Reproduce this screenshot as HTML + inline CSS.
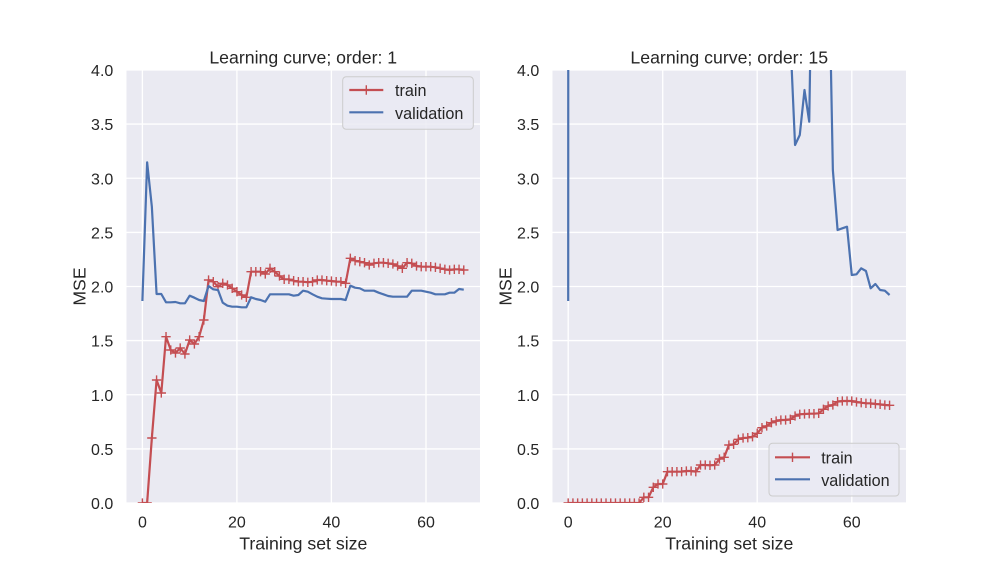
<!DOCTYPE html>
<html><head><meta charset="utf-8"><style>
html,body{margin:0;padding:0;background:#fff;}
svg{display:block;font-family:"Liberation Sans",Arial,sans-serif;}
text{fill:#262626;}
</style></head><body>
<svg width="1008" height="576" viewBox="0 0 1008 576" xmlns="http://www.w3.org/2000/svg">
<defs>
<clipPath id="cl"><rect x="126.5" y="70" width="353.5" height="433"/></clipPath>
<marker id="plus" markerUnits="userSpaceOnUse" markerWidth="12" markerHeight="12" refX="6" refY="6" viewBox="0 0 12 12" overflow="visible">
<path d="M1.33 6H10.67M6 1.33V10.67" stroke="#C44E52" stroke-width="1.4" fill="none"/>
</marker>
</defs>
<rect width="1008" height="576" fill="#fff"/>

<!-- LEFT AXES -->
<g>
<rect x="126.5" y="70" width="353.5" height="433" fill="#EAEAF2"/>
<g stroke="#fff" stroke-width="1.33">
<line x1="142.4" y1="70" x2="142.4" y2="503"/>
<line x1="236.9" y1="70" x2="236.9" y2="503"/>
<line x1="331.4" y1="70" x2="331.4" y2="503"/>
<line x1="426" y1="70" x2="426" y2="503"/>
<line x1="126.5" y1="503" x2="480" y2="503"/>
<line x1="126.5" y1="448.9" x2="480" y2="448.9"/>
<line x1="126.5" y1="394.75" x2="480" y2="394.75"/>
<line x1="126.5" y1="340.6" x2="480" y2="340.6"/>
<line x1="126.5" y1="286.5" x2="480" y2="286.5"/>
<line x1="126.5" y1="232.4" x2="480" y2="232.4"/>
<line x1="126.5" y1="178.25" x2="480" y2="178.25"/>
<line x1="126.5" y1="124.1" x2="480" y2="124.1"/>
<line x1="126.5" y1="70" x2="480" y2="70"/>
</g>
<g clip-path="url(#cl)" fill="none" stroke-width="2.2" stroke-linejoin="round">
<polyline stroke="#C44E52" marker-start="url(#plus)" marker-mid="url(#plus)" marker-end="url(#plus)" points="142.40,503 147.13,503 151.85,438 156.58,380 161.30,393 166.03,336.7 170.76,350 175.48,353 180.21,348 184.93,354 189.66,340 194.39,344 199.11,336.7 203.84,320 208.56,280 213.29,281.7 218.02,286.7 222.74,283.3 227.47,285 232.19,288.3 236.92,291.7 241.65,295 246.37,297.3 251.10,271.7 255.82,271.7 260.55,271.7 265.28,274 270.00,268.3 274.73,271.7 279.45,276 284.18,279.3 288.91,279.3 293.63,280.7 298.36,281.7 303.08,281.7 307.81,282.3 312.54,281.7 317.26,280 321.99,280 326.71,280.7 331.44,281 336.17,281.7 340.89,281.7 345.62,283.3 350.34,258.3 355.07,260.7 359.80,261.7 364.52,262.7 369.25,265 373.97,263.3 378.70,262.7 383.43,262.7 388.15,263.3 392.88,264 397.60,266 402.33,268.3 407.06,262.7 411.78,263.3 416.51,266 421.23,266.7 425.96,266.7 430.69,266.7 435.41,267.3 440.14,268.3 444.86,269.3 449.59,270 454.32,269.3 459.04,269.3 463.77,270"/>
<polyline stroke="#4C72B0" points="142.40,301 147.13,162.3 151.85,206.7 156.58,294 161.30,294 166.03,302.3 170.76,302.3 175.48,302 180.21,303.3 184.93,303.3 189.66,295.7 194.39,297.7 199.11,300 203.84,301 208.56,286 213.29,289.3 218.02,290 222.74,302.7 227.47,305.7 232.19,306.7 236.92,306.7 241.65,307.3 246.37,307.3 251.10,297.3 255.82,299 260.55,300 265.28,301.7 270.00,294.3 274.73,294.3 279.45,294.3 284.18,294.3 288.91,294.3 293.63,295.7 298.36,295 303.08,290.7 307.81,291.7 312.54,294.3 317.26,296.7 321.99,298.3 326.71,298.7 331.44,299 336.17,299 340.89,299 345.62,300 350.34,285.7 355.07,287.7 359.80,288.3 364.52,290.7 369.25,290.7 373.97,290.7 378.70,292.7 383.43,294.3 388.15,296 392.88,296.7 397.60,296.7 402.33,296.7 407.06,296.7 411.78,290.7 416.51,290.7 421.23,290.7 425.96,291.7 430.69,292.7 435.41,294.3 440.14,294.3 444.86,294.3 449.59,292.7 454.32,292.7 459.04,289 463.77,289.7"/>
</g>
<!-- legend -->
<rect x="342.7" y="76.7" width="130.6" height="52.6" rx="3.5" fill="#EAEAF2" fill-opacity="0.8" stroke="#CCCCCC" stroke-width="1"/>
<line x1="349.3" y1="90" x2="383.3" y2="90" stroke="#C44E52" stroke-width="2.2"/>
<path d="M361.6 90H371M366.3 85.3V94.7" stroke="#C44E52" stroke-width="1.4"/>
<line x1="349.3" y1="112.3" x2="383.3" y2="112.3" stroke="#4C72B0" stroke-width="2.2"/>
<text x="395" y="96" font-size="16.2">train</text>
<text x="395" y="119" font-size="16.2">validation</text>
<!-- ticks -->
<g font-size="16" text-anchor="end">
<text x="113.3" y="509">0.0</text>
<text x="113.3" y="454.9">0.5</text>
<text x="113.3" y="400.75">1.0</text>
<text x="113.3" y="346.6">1.5</text>
<text x="113.3" y="292.5">2.0</text>
<text x="113.3" y="238.4">2.5</text>
<text x="113.3" y="184.25">3.0</text>
<text x="113.3" y="130.1">3.5</text>
<text x="113.3" y="76">4.0</text>
</g>
<g font-size="16" text-anchor="middle">
<text x="142.4" y="527.3">0</text>
<text x="236.9" y="527.3">20</text>
<text x="331.4" y="527.3">40</text>
<text x="426" y="527.3">60</text>
</g>
<text x="303.25" y="63.3" font-size="17.7" text-anchor="middle">Learning curve; order: 1</text>
<text x="303.25" y="549.3" font-size="17.7" text-anchor="middle">Training set size</text>
<text transform="translate(85.5,286.5) rotate(-90)" font-size="17.7" text-anchor="middle">MSE</text>
</g>

<!-- RIGHT AXES -->
<g>
<rect x="552.5" y="70" width="353.5" height="433" fill="#EAEAF2"/>
<g stroke="#fff" stroke-width="1.33">
<line x1="568.2" y1="70" x2="568.2" y2="503"/>
<line x1="662.7" y1="70" x2="662.7" y2="503"/>
<line x1="757.2" y1="70" x2="757.2" y2="503"/>
<line x1="851.8" y1="70" x2="851.8" y2="503"/>
<line x1="552.5" y1="503" x2="906" y2="503"/>
<line x1="552.5" y1="448.9" x2="906" y2="448.9"/>
<line x1="552.5" y1="394.75" x2="906" y2="394.75"/>
<line x1="552.5" y1="340.6" x2="906" y2="340.6"/>
<line x1="552.5" y1="286.5" x2="906" y2="286.5"/>
<line x1="552.5" y1="232.4" x2="906" y2="232.4"/>
<line x1="552.5" y1="178.25" x2="906" y2="178.25"/>
<line x1="552.5" y1="124.1" x2="906" y2="124.1"/>
<line x1="552.5" y1="70" x2="906" y2="70"/>
</g>
<g transform="translate(425.8,0)">
<g clip-path="url(#cl)" fill="none" stroke-width="2.2" stroke-linejoin="round">
<polyline stroke="#C44E52" marker-start="url(#plus)" marker-mid="url(#plus)" marker-end="url(#plus)" points="142.40,503 147.13,503 151.85,503 156.58,503 161.30,503 166.03,503 170.76,503 175.48,503 180.21,503 184.93,503 189.66,503 194.39,503 199.11,503 203.84,503 208.56,503 213.29,503 218.02,497.3 222.74,497.3 227.47,487.3 232.19,484 236.92,484 241.65,471.7 246.37,471.7 251.10,471.7 255.82,471.7 260.55,471 265.28,471 270.00,471.7 274.73,465 279.45,465 284.18,465.3 288.91,465 293.63,459 298.36,457.3 303.08,445 307.81,444.3 312.54,439.3 317.26,438 321.99,437.7 326.71,436.7 331.44,433.3 336.17,427.7 340.89,426 345.62,422.7 350.34,421 355.07,420 359.80,420 364.52,419.3 369.25,416 373.97,414.3 378.70,414 383.43,413.7 388.15,413.7 392.88,413.3 397.60,409.3 402.33,406 407.06,405 411.78,401.7 416.51,401 421.23,401 425.96,401 430.69,402 435.41,402.7 440.14,403.3 444.86,403.3 449.59,404 454.32,404.3 459.04,405 463.77,405.3"/>
<polyline stroke="#4C72B0" points="142.40,301 147.13,-20000 151.85,-5000 359.80,-5000 364.52,37.5 369.25,145 373.97,135 378.70,90 383.43,121.7 388.15,-179 392.88,-5000 397.60,-5000 402.33,-79.4 407.06,170 411.78,230 416.51,228.3 421.23,226.7 425.96,275 430.69,274.3 435.41,268.3 440.14,271 444.86,288.3 449.59,284 454.32,290 459.04,290.7 463.77,295"/>
</g>
</g>
<!-- legend -->
<rect x="769" y="443.3" width="130" height="52.7" rx="3.5" fill="#EAEAF2" fill-opacity="0.8" stroke="#CCCCCC" stroke-width="1"/>
<line x1="775" y1="457.3" x2="810" y2="457.3" stroke="#C44E52" stroke-width="2.2"/>
<path d="M787.8 457.3H797.2M792.5 452.6V462" stroke="#C44E52" stroke-width="1.4"/>
<line x1="775" y1="479.3" x2="810" y2="479.3" stroke="#4C72B0" stroke-width="2.2"/>
<text x="821.2" y="463.4" font-size="16.2">train</text>
<text x="821.2" y="486" font-size="16.2">validation</text>
<!-- ticks -->
<g font-size="16" text-anchor="end">
<text x="539.3" y="509">0.0</text>
<text x="539.3" y="454.9">0.5</text>
<text x="539.3" y="400.75">1.0</text>
<text x="539.3" y="346.6">1.5</text>
<text x="539.3" y="292.5">2.0</text>
<text x="539.3" y="238.4">2.5</text>
<text x="539.3" y="184.25">3.0</text>
<text x="539.3" y="130.1">3.5</text>
<text x="539.3" y="76">4.0</text>
</g>
<g font-size="16" text-anchor="middle">
<text x="568.2" y="527.3">0</text>
<text x="662.7" y="527.3">20</text>
<text x="757.2" y="527.3">40</text>
<text x="851.8" y="527.3">60</text>
</g>
<text x="729.25" y="63.3" font-size="17.7" text-anchor="middle">Learning curve; order: 15</text>
<text x="729.25" y="549.3" font-size="17.7" text-anchor="middle">Training set size</text>
<text transform="translate(511.5,286.5) rotate(-90)" font-size="17.7" text-anchor="middle">MSE</text>
</g>
</svg>
</body></html>
